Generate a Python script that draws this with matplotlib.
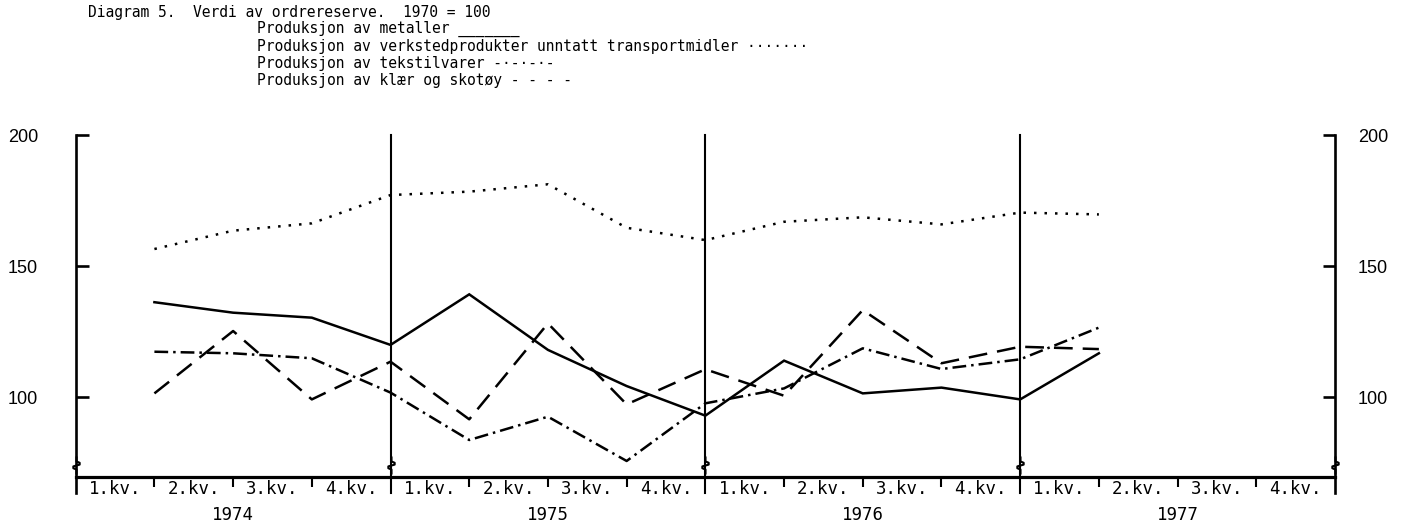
import matplotlib.pyplot as plt
from matplotlib.path import Path
from matplotlib.transforms import blended_transform_factory

# quarter ends 1974 Q1 .. 1977 Q1 (x = number of quarters since start of 1974)
quarter_pos = [1, 2, 3, 4, 5, 6, 7, 8, 9, 10, 11, 12, 13]
metaller = [136.3, 132.3, 130.4, 120.0, 139.3, 118.1, 104.3, 93.0, 114.0, 101.5, 103.7, 99.2, 116.8]
verksted = [156.6, 163.6, 166.4, 177.2, 178.5, 181.3, 164.7, 160.0, 167.0, 168.7, 166.0, 170.5, 169.8]
tekstil = [117.4, 116.8, 114.9, 101.8, 83.7, 92.6, 75.7, 97.7, 103.4, 118.7, 110.8, 114.5, 126.6]
klaer = [101.5, 125.3, 99.2, 113.6, 91.6, 128.2, 97.3, 110.7, 100.6, 133.3, 113.0, 119.3, 118.4]

years = ['1974', '1975', '1976', '1977']
quarter_labels = ['1.kv.', '2.kv.', '3.kv.', '4.kv.']
y_ticks = [100, 150, 200]

title = 'Diagram 5.  Verdi av ordrereserve.  1970 = 100'
legend_lines = [
    'Produksjon av metaller _______',
    'Produksjon av verkstedprodukter unntatt transportmidler \u00b7\u00b7\u00b7\u00b7\u00b7\u00b7\u00b7',
    'Produksjon av tekstilvarer -\u00b7-\u00b7-\u00b7-',
    'Produksjon av klær og skotøy - - - -',
]

W, H = 1407, 529
fig = plt.figure(figsize=(W / 100, H / 100), dpi=100)
x0, x1, ytop, ybot = 75.7, 1335, 135.3, 476.7
ax = fig.add_axes([x0 / W, (H - ybot) / H, (x1 - x0) / W, (ybot - ytop) / H])
ax.set_xlim(0, 16)
ax.set_ylim(69.7, 200)

mono = 'DejaVu Sans Mono'

# series
ax.plot(quarter_pos, metaller, color='black', lw=1.8, solid_joinstyle='miter')
ax.plot(quarter_pos, verksted, color='black', lw=1.8, linestyle=(0, (1, 3.2)))
ax.plot(quarter_pos, tekstil, color='black', lw=1.8, linestyle=(0, (5.5, 2, 1, 2)))
ax.plot(quarter_pos, klaer, color='black', lw=1.8, linestyle=(0, (7.5, 4)))

# frame
for s in ['top', 'left', 'right']:
    ax.spines[s].set_visible(False)
ax.spines['bottom'].set_linewidth(2.3)
ext = -16 / (ybot - ytop)
for xv in [0, 4, 8, 12, 16]:
    lw = 1.9 if xv in (0, 16) else 1.5
    ax.axvline(xv, ymin=ext, ymax=1, color='black', lw=lw, clip_on=False)

ax.set_xticks([q for q in range(1, 16) if q % 4 != 0])
ax.tick_params(axis='x', direction='out', length=7, width=1.5, labelbottom=False)

ax.set_yticks(y_ticks)
ax.set_yticklabels([str(v) for v in y_ticks])
ax.tick_params(axis='y', direction='in', length=9, width=1.9, pad=27,
               labelsize=13)
for lab in ax.get_yticklabels():
    lab.set_family('Liberation Sans')

ax2 = ax.twinx()
ax2.set_ylim(ax.get_ylim())
for s in ['top', 'left', 'right', 'bottom']:
    ax2.spines[s].set_visible(False)
ax2.set_yticks(y_ticks)
ax2.set_yticklabels([str(v) for v in y_ticks])
ax2.tick_params(axis='y', direction='in', length=9, width=1.9, pad=16.5,
                labelsize=13)
for lab in ax2.get_yticklabels():
    lab.set_family('Liberation Sans')

# axis break marks (small squiggle on each vertical line)
trans = blended_transform_factory(ax.transData, ax.transAxes)
squiggle = Path([(0, 1), (0, 0.45), (0.35, 0.3), (0.35, 0.1), (-0.35, -0.1),
                 (-0.35, -0.3), (0, -0.45), (0, -1)])
for xv in [0, 4, 8, 12, 16]:
    ax.plot([xv], [0.035], transform=trans, marker=squiggle, ms=13,
            mfc='none', mec='black', mew=1.5, clip_on=False, ls='none')

# quarter and year labels
for yi, yr in enumerate(years):
    for qi, ql in enumerate(quarter_labels):
        ax.text(yi * 4 + qi + 0.5, -(489 - ybot) / (ybot - ytop), ql,
                transform=trans, ha='center', va='center', fontsize=12.5,
                family=mono)
    ax.text(yi * 4 + 2, -(515 - ybot) / (ybot - ytop), yr, transform=trans,
            ha='center', va='center', fontsize=12.5, family=mono)

# header
fig.text(88 / W, 1 - 13 / H, title, ha='left', va='center', fontsize=10.5,
         family=mono)
for i, line in enumerate(legend_lines):
    fig.text(257 / W, 1 - (29 + 17.3 * i) / H, line, ha='left', va='center',
             fontsize=10.5, family=mono)

fig.savefig('out.png', dpi=100)
